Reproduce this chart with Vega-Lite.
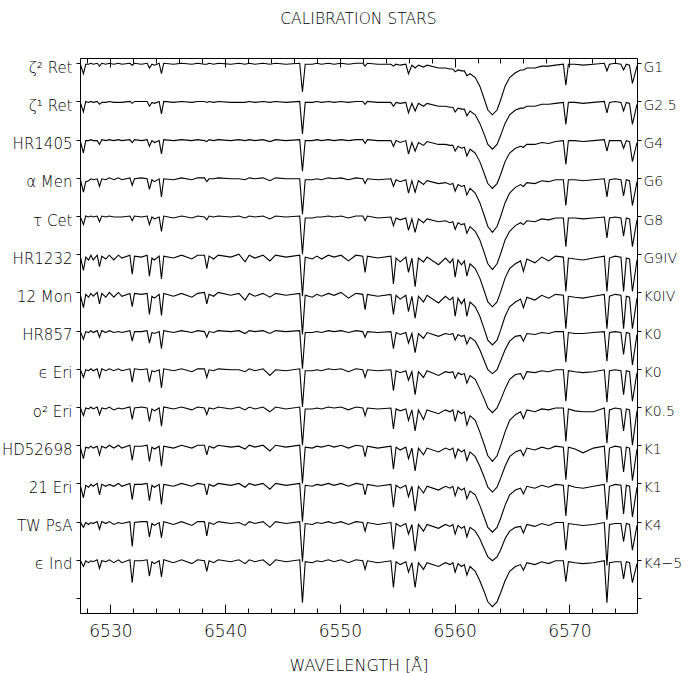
{
"$schema": "https://vega.github.io/schema/vega-lite/v6.json",
"width": 557, "height": 555,
"autosize": "none",
"padding": {"left": 80, "top": 58, "right": 62, "bottom": 60},
"config": {"view": {"stroke": null}, "font": "DejaVu Sans"},
"title": {"text": "CALIBRATION  STARS", "fontSize": 15.5, "fontWeight": 200, "offset": 30, "anchor": "middle", "font": "DejaVu Sans", "color": "black"},
"data": {"values": [
{"x":6527.35,"a":560,"b":520,"c":480,"d":440,"e":400,"f":359,"g":319,"h":280,"i":240,"j":200,"k":159,"l":119,"m":80,"n":40},
{"x":6527.65,"a":549,"b":509,"c":466,"d":425,"e":391,"f":343,"g":304,"h":271,"i":231,"j":191,"k":146,"l":105,"m":74,"n":33},
{"x":6527.85,"a":559,"b":520,"c":479,"d":436,"e":400,"f":357,"g":318,"h":279,"i":239,"j":199,"k":158,"l":118,"m":79,"n":39},
{"x":6528.1,"a":559,"b":519,"c":479,"d":437,"e":399,"f":354,"g":315,"h":278,"i":238,"j":198,"k":157,"l":116,"m":77,"n":37},
{"x":6528.3,"a":560,"b":520,"c":480,"d":439,"e":400,"f":359,"g":319,"h":280,"i":240,"j":200,"k":159,"l":119,"m":79,"n":39},
{"x":6528.5,"a":559,"b":519,"c":479,"d":438,"e":399,"f":354,"g":316,"h":278,"i":238,"j":198,"k":157,"l":117,"m":78,"n":38},
{"x":6528.85,"a":560,"b":520,"c":479,"d":439,"e":400,"f":359,"g":320,"h":280,"i":240,"j":200,"k":159,"l":120,"m":80,"n":40},
{"x":6529.05,"a":557,"b":517,"c":475,"d":431,"e":394,"f":347,"g":308,"h":273,"i":231,"j":192,"k":150,"l":108,"m":72,"n":31},
{"x":6529.25,"a":560,"b":519,"c":480,"d":439,"e":400,"f":358,"g":319,"h":280,"i":240,"j":199,"k":159,"l":119,"m":80,"n":39},
{"x":6529.6,"a":559,"b":519,"c":479,"d":438,"e":399,"f":355,"g":315,"h":278,"i":238,"j":198,"k":157,"l":117,"m":78,"n":38},
{"x":6529.9,"a":560,"b":520,"c":480,"d":440,"e":400,"f":359,"g":320,"h":280,"i":240,"j":200,"k":160,"l":119,"m":80,"n":40},
{"x":6530.3,"a":559,"b":519,"c":479,"d":438,"e":399,"f":354,"g":315,"h":278,"i":238,"j":197,"k":157,"l":117,"m":77,"n":37},
{"x":6530.7,"a":560,"b":519,"c":480,"d":440,"e":399,"f":359,"g":320,"h":279,"i":240,"j":199,"k":160,"l":120,"m":79,"n":40},
{"x":6531.0,"a":559,"b":519,"c":479,"d":438,"e":399,"f":356,"g":316,"h":278,"i":238,"j":198,"k":157,"l":117,"m":78,"n":37},
{"x":6531.7,"a":560,"b":520,"c":480,"d":440,"e":400,"f":359,"g":319,"h":280,"i":240,"j":200,"k":160,"l":120,"m":80,"n":40},
{"x":6531.9,"a":558,"b":518,"c":477,"d":432,"e":395,"f":339,"g":305,"h":269,"i":226,"j":187,"k":144,"l":103,"m":54,"n":16},
{"x":6532.1,"a":560,"b":520,"c":480,"d":439,"e":400,"f":358,"g":319,"h":279,"i":240,"j":199,"k":159,"l":119,"m":79,"n":39},
{"x":6532.7,"a":559,"b":520,"c":479,"d":440,"e":399,"f":357,"g":318,"h":279,"i":239,"j":200,"k":159,"l":119,"m":80,"n":39},
{"x":6533.2,"a":560,"b":520,"c":480,"d":439,"e":400,"f":359,"g":319,"h":280,"i":240,"j":199,"k":160,"l":120,"m":80,"n":40},
{"x":6533.4,"a":555,"b":515,"c":473,"d":428,"e":391,"f":337,"g":297,"h":267,"i":226,"j":185,"k":143,"l":102,"m":64,"n":23},
{"x":6533.62,"a":559,"b":519,"c":479,"d":438,"e":399,"f":356,"g":316,"h":278,"i":238,"j":198,"k":158,"l":118,"m":78,"n":38},
{"x":6533.84,"a":558,"b":518,"c":477,"d":436,"e":397,"f":354,"g":314,"h":277,"i":237,"j":196,"k":156,"l":116,"m":76,"n":36},
{"x":6534.25,"a":560,"b":520,"c":479,"d":439,"e":399,"f":358,"g":318,"h":279,"i":239,"j":199,"k":159,"l":119,"m":79,"n":39},
{"x":6534.45,"a":549,"b":507,"c":465,"d":420,"e":384,"f":334,"g":296,"h":261,"i":220,"j":180,"k":138,"l":98,"m":63,"n":22},
{"x":6534.65,"a":560,"b":520,"c":480,"d":439,"e":400,"f":358,"g":319,"h":280,"i":240,"j":200,"k":159,"l":119,"m":80,"n":40},
{"x":6535.5,"a":559,"b":519,"c":479,"d":438,"e":398,"f":356,"g":316,"h":278,"i":238,"j":198,"k":157,"l":117,"m":77,"n":37},
{"x":6536.2,"a":560,"b":520,"c":480,"d":440,"e":400,"f":359,"g":319,"h":280,"i":240,"j":200,"k":160,"l":120,"m":80,"n":40},
{"x":6537.1,"a":559,"b":519,"c":479,"d":438,"e":398,"f":355,"g":315,"h":278,"i":237,"j":197,"k":157,"l":117,"m":76,"n":36},
{"x":6537.6,"a":560,"b":520,"c":480,"d":440,"e":400,"f":359,"g":319,"h":280,"i":240,"j":200,"k":160,"l":120,"m":80,"n":40},
{"x":6538.2,"a":559,"b":520,"c":479,"d":440,"e":399,"f":359,"g":320,"h":279,"i":240,"j":199,"k":160,"l":119,"m":80,"n":39},
{"x":6538.4,"a":559,"b":519,"c":478,"d":436,"e":396,"f":345,"g":308,"h":273,"i":231,"j":192,"k":150,"l":108,"m":65,"n":28},
{"x":6538.6,"a":560,"b":520,"c":480,"d":439,"e":400,"f":358,"g":318,"h":279,"i":239,"j":199,"k":159,"l":119,"m":79,"n":39},
{"x":6539.0,"a":559,"b":519,"c":479,"d":439,"e":399,"f":355,"g":316,"h":278,"i":238,"j":198,"k":157,"l":117,"m":77,"n":37},
{"x":6539.4,"a":560,"b":520,"c":480,"d":440,"e":400,"f":359,"g":320,"h":280,"i":240,"j":200,"k":160,"l":120,"m":80,"n":40},
{"x":6540.5,"a":559,"b":519,"c":479,"d":439,"e":399,"f":357,"g":317,"h":279,"i":239,"j":198,"k":158,"l":118,"m":78,"n":38},
{"x":6541.2,"a":560,"b":519,"c":480,"d":439,"e":400,"f":360,"g":319,"h":280,"i":239,"j":200,"k":159,"l":120,"m":79,"n":40},
{"x":6541.74,"a":559,"b":519,"c":479,"d":438,"e":398,"f":352,"g":312,"h":277,"i":237,"j":197,"k":156,"l":116,"m":76,"n":36},
{"x":6542.1,"a":560,"b":520,"c":480,"d":440,"e":400,"f":359,"g":319,"h":280,"i":240,"j":200,"k":160,"l":120,"m":80,"n":40},
{"x":6542.6,"a":559,"b":519,"c":479,"d":439,"e":399,"f":356,"g":316,"h":279,"i":238,"j":198,"k":158,"l":118,"m":78,"n":38},
{"x":6543.3,"a":560,"b":520,"c":480,"d":440,"e":400,"f":359,"g":319,"h":280,"i":240,"j":200,"k":160,"l":120,"m":80,"n":40},
{"x":6543.9,"a":559,"b":519,"c":478,"d":437,"e":397,"f":353,"g":315,"h":277,"i":233,"j":195,"k":154,"l":114,"m":74,"n":34},
{"x":6544.4,"a":560,"b":520,"c":480,"d":440,"e":400,"f":359,"g":319,"h":280,"i":239,"j":200,"k":160,"l":120,"m":80,"n":40},
{"x":6545.3,"a":559,"b":519,"c":479,"d":439,"e":399,"f":357,"g":317,"h":279,"i":238,"j":198,"k":158,"l":118,"m":78,"n":38},
{"x":6546.5,"a":560,"b":520,"c":480,"d":439,"e":400,"f":359,"g":319,"h":280,"i":240,"j":200,"k":160,"l":120,"m":80,"n":40},
{"x":6546.74,"a":530,"b":486,"c":447,"d":402,"e":360,"f":316,"g":276,"h":240,"i":200,"j":160,"k":120,"l":80,"m":38,"n":-5},
{"x":6546.98,"a":559,"b":519,"c":479,"d":438,"e":398,"f":357,"g":317,"h":278,"i":238,"j":198,"k":158,"l":118,"m":78,"n":38},
{"x":6547.6,"a":559,"b":519,"c":479,"d":438,"e":398,"f":355,"g":315,"h":278,"i":238,"j":198,"k":157,"l":117,"m":77,"n":37},
{"x":6548.0,"a":560,"b":520,"c":480,"d":439,"e":399,"f":358,"g":318,"h":279,"i":239,"j":199,"k":159,"l":119,"m":79,"n":39},
{"x":6548.4,"a":559,"b":519,"c":479,"d":438,"e":399,"f":355,"g":316,"h":278,"i":238,"j":198,"k":158,"l":118,"m":78,"n":38},
{"x":6549.0,"a":560,"b":520,"c":480,"d":440,"e":400,"f":359,"g":319,"h":280,"i":240,"j":200,"k":160,"l":120,"m":80,"n":40},
{"x":6549.5,"a":559,"b":519,"c":479,"d":439,"e":399,"f":357,"g":317,"h":279,"i":239,"j":199,"k":158,"l":118,"m":78,"n":38},
{"x":6550.1,"a":560,"b":520,"c":480,"d":440,"e":400,"f":359,"g":320,"h":280,"i":240,"j":200,"k":160,"l":120,"m":80,"n":40},
{"x":6550.75,"a":559,"b":519,"c":479,"d":438,"e":398,"f":353,"g":314,"h":278,"i":237,"j":197,"k":157,"l":117,"m":77,"n":37},
{"x":6551.4,"a":560,"b":520,"c":480,"d":440,"e":400,"f":359,"g":319,"h":280,"i":240,"j":200,"k":160,"l":120,"m":80,"n":40},
{"x":6552.0,"a":560,"b":520,"c":480,"d":439,"e":400,"f":358,"g":318,"h":279,"i":239,"j":199,"k":159,"l":119,"m":79,"n":39},
{"x":6552.2,"a":557,"b":517,"c":476,"d":434,"e":395,"f":341,"g":302,"h":273,"i":231,"j":191,"k":148,"l":108,"m":70,"n":30},
{"x":6552.4,"a":560,"b":520,"c":480,"d":439,"e":400,"f":358,"g":318,"h":279,"i":239,"j":199,"k":159,"l":119,"m":79,"n":39},
{"x":6553.3,"a":559,"b":519,"c":479,"d":438,"e":398,"f":356,"g":316,"h":278,"i":238,"j":198,"k":157,"l":117,"m":77,"n":37},
{"x":6554.45,"a":559,"b":519,"c":479,"d":439,"e":399,"f":358,"g":318,"h":279,"i":239,"j":199,"k":159,"l":119,"m":79,"n":39},
{"x":6554.67,"a":557,"b":515,"c":473,"d":431,"e":390,"f":329,"g":297,"h":261,"i":217,"j":177,"k":135,"l":95,"m":51,"n":11},
{"x":6554.9,"a":559,"b":519,"c":479,"d":438,"e":398,"f":356,"g":317,"h":278,"i":238,"j":198,"k":158,"l":118,"m":78,"n":38},
{"x":6555.26,"a":558,"b":518,"c":477,"d":436,"e":396,"f":352,"g":313,"h":276,"i":236,"j":196,"k":155,"l":115,"m":75,"n":35},
{"x":6555.75,"a":559,"b":519,"c":479,"d":438,"e":398,"f":357,"g":317,"h":278,"i":238,"j":198,"k":158,"l":118,"m":78,"n":38},
{"x":6555.98,"a":549,"b":508,"c":465,"d":424,"e":385,"f":341,"g":300,"h":267,"i":228,"j":186,"k":146,"l":106,"m":67,"n":27},
{"x":6556.28,"a":558,"b":518,"c":477,"d":437,"e":397,"f":356,"g":316,"h":277,"i":237,"j":197,"k":157,"l":117,"m":77,"n":37},
{"x":6556.56,"a":555,"b":510,"c":468,"d":425,"e":383,"f":326,"g":293,"h":257,"i":213,"j":175,"k":133,"l":91,"m":49,"n":11},
{"x":6556.85,"a":558,"b":518,"c":477,"d":437,"e":397,"f":356,"g":316,"h":277,"i":237,"j":197,"k":157,"l":117,"m":77,"n":37},
{"x":6557.29,"a":556,"b":515,"c":474,"d":433,"e":393,"f":352,"g":310,"h":272,"i":231,"j":187,"k":150,"l":110,"m":70,"n":30},
{"x":6557.6,"a":558,"b":518,"c":478,"d":437,"e":397,"f":357,"g":317,"h":278,"i":238,"j":197,"k":157,"l":117,"m":77,"n":37},
{"x":6558.6,"a":555,"b":515,"c":475,"d":434,"e":394,"f":349,"g":309,"h":274,"i":233,"j":193,"k":153,"l":113,"m":73,"n":33},
{"x":6559.2,"a":555,"b":515,"c":475,"d":435,"e":395,"f":356,"g":316,"h":277,"i":237,"j":197,"k":157,"l":117,"m":77,"n":37},
{"x":6559.6,"a":554,"b":514,"c":474,"d":433,"e":393,"f":351,"g":312,"h":276,"i":236,"j":195,"k":155,"l":115,"m":75,"n":35},
{"x":6559.85,"a":554,"b":514,"c":474,"d":434,"e":394,"f":355,"g":315,"h":277,"i":237,"j":197,"k":157,"l":117,"m":77,"n":37},
{"x":6560.05,"a":551,"b":509,"c":468,"d":426,"e":386,"f":336,"g":295,"h":270,"i":230,"j":185,"k":147,"l":107,"m":67,"n":27},
{"x":6560.3,"a":553,"b":513,"c":473,"d":433,"e":393,"f":354,"g":314,"h":276,"i":236,"j":196,"k":156,"l":116,"m":76,"n":36},
{"x":6560.6,"a":552,"b":512,"c":471,"d":431,"e":391,"f":349,"g":308,"h":274,"i":234,"j":193,"k":153,"l":113,"m":73,"n":33},
{"x":6560.85,"a":552,"b":512,"c":472,"d":432,"e":392,"f":353,"g":313,"h":275,"i":235,"j":195,"k":155,"l":115,"m":75,"n":35},
{"x":6561.07,"a":547,"b":505,"c":463,"d":422,"e":382,"f":337,"g":295,"h":266,"i":225,"j":181,"k":144,"l":104,"m":64,"n":24},
{"x":6561.35,"a":549,"b":510,"c":470,"d":429,"e":389,"f":350,"g":310,"h":273,"i":233,"j":191,"k":153,"l":112,"m":74,"n":33},
{"x":6561.8,"a":545,"b":506,"c":466,"d":424,"e":384,"f":345,"g":305,"h":269,"i":229,"j":186,"k":148,"l":108,"m":70,"n":28},
{"x":6562.2,"a":536,"b":497,"c":457,"d":414,"e":375,"f":335,"g":295,"h":260,"i":219,"j":174,"k":138,"l":97,"m":62,"n":18},
{"x":6562.6,"a":522,"b":485,"c":444,"d":400,"e":361,"f":321,"g":281,"h":248,"i":208,"j":160,"k":126,"l":84,"m":51,"n":6},
{"x":6562.9,"a":511,"b":475,"c":434,"d":389,"e":350,"f":310,"g":270,"h":239,"i":199,"j":149,"k":116,"l":74,"m":43,"n":-4},
{"x":6563.3,"a":506,"b":470,"c":429,"d":383,"e":344,"f":305,"g":265,"h":235,"i":194,"j":143,"k":111,"l":69,"m":39,"n":-9},
{"x":6563.7,"a":511,"b":475,"c":434,"d":389,"e":350,"f":310,"g":270,"h":239,"i":199,"j":149,"k":116,"l":74,"m":43,"n":-4},
{"x":6564.0,"a":521,"b":484,"c":443,"d":399,"e":360,"f":320,"g":280,"h":248,"i":207,"j":159,"k":125,"l":83,"m":50,"n":5},
{"x":6564.4,"a":536,"b":497,"c":457,"d":414,"e":375,"f":335,"g":295,"h":260,"i":219,"j":174,"k":138,"l":97,"m":62,"n":18},
{"x":6564.8,"a":545,"b":506,"c":466,"d":424,"e":384,"f":345,"g":305,"h":269,"i":229,"j":186,"k":148,"l":108,"m":70,"n":28},
{"x":6565.3,"a":550,"b":511,"c":471,"d":430,"e":390,"f":350,"g":310,"h":274,"i":234,"j":192,"k":153,"l":113,"m":74,"n":33},
{"x":6565.75,"a":553,"b":513,"c":473,"d":433,"e":393,"f":353,"g":313,"h":275,"i":235,"j":195,"k":155,"l":115,"m":75,"n":35},
{"x":6566.0,"a":553,"b":513,"c":472,"d":431,"e":391,"f":342,"g":304,"h":269,"i":229,"j":188,"k":149,"l":109,"m":68,"n":29},
{"x":6566.3,"a":555,"b":515,"c":475,"d":435,"e":395,"f":355,"g":315,"h":277,"i":237,"j":197,"k":157,"l":117,"m":77,"n":37},
{"x":6567.0,"a":555,"b":515,"c":475,"d":434,"e":394,"f":351,"g":312,"h":276,"i":236,"j":195,"k":155,"l":115,"m":75,"n":35},
{"x":6567.6,"a":557,"b":517,"c":477,"d":437,"e":397,"f":357,"g":317,"h":278,"i":238,"j":198,"k":158,"l":118,"m":78,"n":38},
{"x":6568.2,"a":557,"b":517,"c":476,"d":436,"e":396,"f":353,"g":314,"h":277,"i":237,"j":197,"k":156,"l":116,"m":76,"n":36},
{"x":6568.8,"a":558,"b":518,"c":478,"d":438,"e":398,"f":358,"g":318,"h":279,"i":239,"j":199,"k":159,"l":119,"m":79,"n":39},
{"x":6569.48,"a":559,"b":519,"c":479,"d":438,"e":398,"f":357,"g":317,"h":279,"i":239,"j":199,"k":158,"l":118,"m":79,"n":39},
{"x":6569.7,"a":537,"b":496,"c":454,"d":411,"e":368,"f":321,"g":282,"h":247,"i":206,"j":164,"k":124,"l":86,"m":50,"n":17},
{"x":6569.92,"a":559,"b":519,"c":479,"d":438,"e":398,"f":356,"g":316,"h":278,"i":238,"j":198,"k":158,"l":118,"m":78,"n":38},
{"x":6570.5,"a":559,"b":519,"c":479,"d":438,"e":398,"f":355,"g":315,"h":277,"i":237,"j":196,"k":156,"l":116,"m":77,"n":37},
{"x":6571.2,"a":558,"b":518,"c":478,"d":437,"e":397,"f":354,"g":314,"h":277,"i":236,"j":195,"k":152,"l":115,"m":76,"n":36},
{"x":6572.1,"a":559,"b":519,"c":479,"d":438,"e":398,"f":356,"g":316,"h":278,"i":237,"j":195,"k":157,"l":117,"m":77,"n":37},
{"x":6573.05,"a":560,"b":520,"c":480,"d":439,"e":399,"f":358,"g":318,"h":279,"i":239,"j":199,"k":159,"l":119,"m":79,"n":39},
{"x":6573.28,"a":552,"b":508,"c":468,"d":420,"e":377,"f":321,"g":282,"h":248,"i":205,"j":162,"k":121,"l":82,"m":34,"n":-5},
{"x":6573.5,"a":559,"b":519,"c":479,"d":438,"e":398,"f":356,"g":316,"h":278,"i":238,"j":197,"k":157,"l":117,"m":77,"n":37},
{"x":6574.0,"a":560,"b":520,"c":479,"d":439,"e":399,"f":358,"g":318,"h":279,"i":239,"j":199,"k":159,"l":119,"m":78,"n":38},
{"x":6574.5,"a":559,"b":519,"c":479,"d":438,"e":398,"f":357,"g":317,"h":278,"i":238,"j":198,"k":158,"l":118,"m":78,"n":38},
{"x":6574.73,"a":553,"b":510,"c":471,"d":421,"e":379,"f":321,"g":282,"h":255,"i":213,"j":175,"k":132,"l":88,"m":59,"n":20},
{"x":6574.97,"a":559,"b":519,"c":479,"d":438,"e":398,"f":356,"g":316,"h":278,"i":238,"j":198,"k":158,"l":118,"m":78,"n":38},
{"x":6575.25,"a":558,"b":518,"c":478,"d":437,"e":397,"f":355,"g":315,"h":277,"i":237,"j":197,"k":157,"l":117,"m":77,"n":37},
{"x":6575.5,"a":539,"b":496,"c":457,"d":411,"e":368,"f":321,"g":282,"h":244,"i":206,"j":160,"k":123,"l":85,"m":50,"n":16},
{"x":6575.9,"a":557,"b":517,"c":477,"d":436,"e":396,"f":354,"g":314,"h":276,"i":236,"j":196,"k":156,"l":116,"m":76,"n":36}
]},
"transform": [{"fold": ["a","b","c","d","e","f","g","h","i","j","k","l","m","n"], "as": ["star", "y"]}],
"layer": [
{"mark": {"type": "line", "color": "black", "strokeWidth": 1.1, "clip": true},
 "encoding": {
  "x": {"field": "x", "type": "quantitative", "scale": {"domain": [6527.35, 6575.9], "nice": false, "zero": false},
   "axis": {"orient": "bottom", "values": [6528,6530,6532,6534,6536,6538,6540,6542,6544,6546,6548,6550,6552,6554,6556,6558,6560,6562,6564,6566,6568,6570,6572,6574],
    "format": "d", "labelExpr": "datum.value % 10 === 0 ? datum.label : ''", "grid": false,
    "tickSize": {"condition": {"test": "datum.value % 10 === 0", "value": -9}, "value": -5},
    "tickColor": "black", "domainColor": "black", "labelColor": "black", "labelFontSize": 17, "labelFontWeight": 200, "labelPadding": 19,
    "labelOverlap": false, "labelFlush": false, "labelBound": false,
    "title": "WAVELENGTH  [Å]", "titleFontSize": 16, "titleFontWeight": 200, "titleColor": "black", "titlePadding": 14}},
  "y": {"field": "y", "type": "quantitative", "scale": {"domain": [-15.7, 565.5], "nice": false, "zero": false},
   "axis": {"orient": "left", "values": [0,40,80,120,160,200,240,280,320,360,400,440,480,520,560],
    "labelExpr": "['', 'ϵ Ind', 'TW PsA', '21 Eri', 'HD52698', 'o² Eri', 'ϵ Eri', 'HR857', '12 Mon', 'HR1232', 'τ Cet', 'α Men', 'HR1405', 'ζ¹ Ret', 'ζ² Ret'][round(datum.value/40)]",
    "grid": false, "title": null, "tickSize": 4, "tickColor": "black", "domainColor": "black", "labelColor": "black",
    "labelFontSize": 15, "labelFontWeight": 200, "labelPadding": 4, "labelOffset": 4, "labelOverlap": false, "labelBound": false}},
  "detail": {"field": "star"}
 }},
{"mark": {"type": "line", "strokeOpacity": 0},
 "encoding": {
  "x": {"field": "x", "type": "quantitative", "scale": {"domain": [6527.35, 6575.9], "nice": false, "zero": false},
   "axis": {"orient": "top", "values": [6528,6530,6532,6534,6536,6538,6540,6542,6544,6546,6548,6550,6552,6554,6556,6558,6560,6562,6564,6566,6568,6570,6572,6574],
    "labels": false, "grid": false, "title": null,
    "tickSize": {"condition": {"test": "datum.value % 10 === 0", "value": -9}, "value": -5},
    "tickColor": "black", "domainColor": "black"}},
  "y": {"field": "y", "type": "quantitative", "scale": {"domain": [-15.7, 565.5], "nice": false, "zero": false},
   "axis": {"orient": "right", "values": [0,40,80,120,160,200,240,280,320,360,400,440,480,520,560],
    "labelExpr": "['', 'K4−5', 'K4', 'K1', 'K1', 'K0.5', 'K0', 'K0', 'K0IV', 'G9IV', 'G8', 'G6', 'G4', 'G2.5', 'G1'][round(datum.value/40)]",
    "grid": false, "title": null, "tickSize": 4, "tickColor": "black", "domainColor": "black", "labelColor": "black",
    "labelFontSize": 14, "labelFontWeight": 200, "labelPadding": 2, "labelOffset": 4, "labelOverlap": false, "labelBound": false}},
  "detail": {"field": "star"}
 }}
],
"resolve": {"axis": {"x": "independent", "y": "independent"}}
}
